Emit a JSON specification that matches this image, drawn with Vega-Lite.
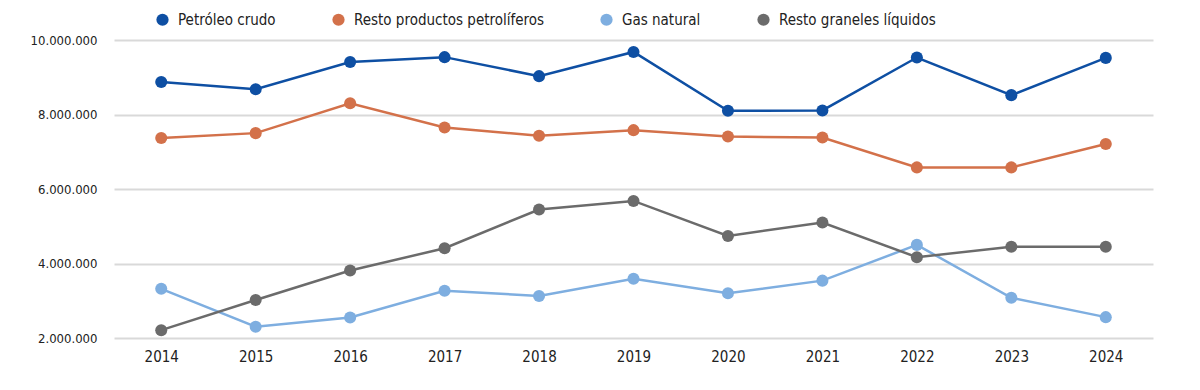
{
  "$schema": "https://vega.github.io/schema/vega-lite/v6.json",
  "width": 1039,
  "height": 298,
  "autosize": {"type": "none"},
  "padding": {"left": 114, "top": 40, "right": 47, "bottom": 52},
  "background": "white",
  "config": {
    "locale": {"number": {"decimal": ",", "thousands": ".", "grouping": [3], "currency": ["", " €"]}},
    "font": "DejaVu Sans Condensed, Roboto, sans-serif",
    "view": {"stroke": null}
  },
  "data": {
    "values": [
      {"year": "2014", "serie": "Petróleo crudo", "t": 8870000},
      {"year": "2015", "serie": "Petróleo crudo", "t": 8680000},
      {"year": "2016", "serie": "Petróleo crudo", "t": 9410000},
      {"year": "2017", "serie": "Petróleo crudo", "t": 9540000},
      {"year": "2018", "serie": "Petróleo crudo", "t": 9030000},
      {"year": "2019", "serie": "Petróleo crudo", "t": 9680000},
      {"year": "2020", "serie": "Petróleo crudo", "t": 8100000},
      {"year": "2021", "serie": "Petróleo crudo", "t": 8110000},
      {"year": "2022", "serie": "Petróleo crudo", "t": 9530000},
      {"year": "2023", "serie": "Petróleo crudo", "t": 8520000},
      {"year": "2024", "serie": "Petróleo crudo", "t": 9520000},
      {"year": "2014", "serie": "Resto productos petrolíferos", "t": 7370000},
      {"year": "2015", "serie": "Resto productos petrolíferos", "t": 7500000},
      {"year": "2016", "serie": "Resto productos petrolíferos", "t": 8300000},
      {"year": "2017", "serie": "Resto productos petrolíferos", "t": 7650000},
      {"year": "2018", "serie": "Resto productos petrolíferos", "t": 7430000},
      {"year": "2019", "serie": "Resto productos petrolíferos", "t": 7580000},
      {"year": "2020", "serie": "Resto productos petrolíferos", "t": 7410000},
      {"year": "2021", "serie": "Resto productos petrolíferos", "t": 7380000},
      {"year": "2022", "serie": "Resto productos petrolíferos", "t": 6580000},
      {"year": "2023", "serie": "Resto productos petrolíferos", "t": 6580000},
      {"year": "2024", "serie": "Resto productos petrolíferos", "t": 7210000},
      {"year": "2014", "serie": "Gas natural", "t": 3320000},
      {"year": "2015", "serie": "Gas natural", "t": 2300000},
      {"year": "2016", "serie": "Gas natural", "t": 2550000},
      {"year": "2017", "serie": "Gas natural", "t": 3270000},
      {"year": "2018", "serie": "Gas natural", "t": 3130000},
      {"year": "2019", "serie": "Gas natural", "t": 3590000},
      {"year": "2020", "serie": "Gas natural", "t": 3200000},
      {"year": "2021", "serie": "Gas natural", "t": 3540000},
      {"year": "2022", "serie": "Gas natural", "t": 4500000},
      {"year": "2023", "serie": "Gas natural", "t": 3080000},
      {"year": "2024", "serie": "Gas natural", "t": 2560000},
      {"year": "2014", "serie": "Resto graneles líquidos", "t": 2210000},
      {"year": "2015", "serie": "Resto graneles líquidos", "t": 3020000},
      {"year": "2016", "serie": "Resto graneles líquidos", "t": 3810000},
      {"year": "2017", "serie": "Resto graneles líquidos", "t": 4410000},
      {"year": "2018", "serie": "Resto graneles líquidos", "t": 5450000},
      {"year": "2019", "serie": "Resto graneles líquidos", "t": 5680000},
      {"year": "2020", "serie": "Resto graneles líquidos", "t": 4740000},
      {"year": "2021", "serie": "Resto graneles líquidos", "t": 5100000},
      {"year": "2022", "serie": "Resto graneles líquidos", "t": 4170000},
      {"year": "2023", "serie": "Resto graneles líquidos", "t": 4450000},
      {"year": "2024", "serie": "Resto graneles líquidos", "t": 4450000}
    ]
  },
  "mark": {"type": "line", "strokeWidth": 2.5, "point": {"filled": true, "size": 145, "opacity": 1}},
  "encoding": {
    "x": {
      "field": "year", "type": "ordinal",
      "scale": {"type": "point", "padding": 0.5},
      "axis": {"title": null, "labelAngle": 0, "ticks": false, "domain": false, "labelFontSize": 15, "labelColor": "#222", "labelPadding": 11}
    },
    "y": {
      "field": "t", "type": "quantitative",
      "scale": {"domain": [2000000, 10000000], "nice": false, "zero": false},
      "axis": {
        "title": null, "values": [2000000, 4000000, 6000000, 8000000, 10000000],
        "format": ",.0f", "ticks": false, "domain": false,
        "labelFontSize": 13, "labelColor": "#222", "labelPadding": 17,
        "gridColor": "#d9d9d9", "gridWidth": 2
      }
    },
    "color": {
      "field": "serie", "type": "nominal",
      "scale": {
        "domain": ["Petróleo crudo", "Resto productos petrolíferos", "Gas natural", "Resto graneles líquidos"],
        "range": ["#0E4FA3", "#D3714A", "#7EAEE0", "#6B6B6B"]
      },
      "legend": {
        "title": null, "orient": "none", "direction": "horizontal",
        "legendX": 41, "legendY": -28, "padding": 0,
        "symbolType": "circle", "symbolSize": 150, "symbolStrokeWidth": 0,
        "labelFontSize": 15, "labelColor": "#222", "labelOffset": 8, "labelLimit": 400,
        "columnPadding": 55
      }
    },
    "order": {"value": 0}
  }
}
